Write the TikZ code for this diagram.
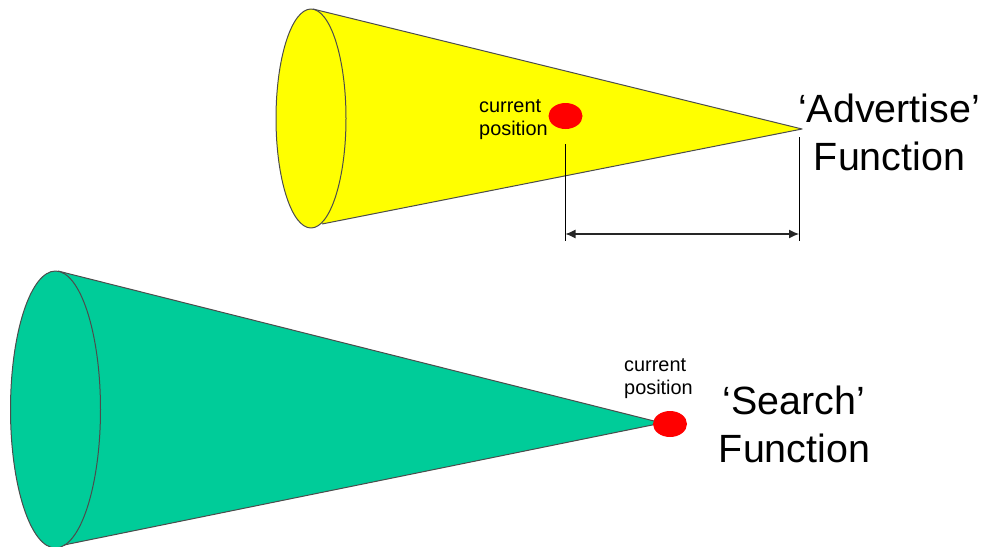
\documentclass[tikz,border=0pt]{standalone}
\usepackage{fontspec}
\setmainfont{Liberation Sans}
\usetikzlibrary{arrows.meta,shapes.geometric}
\definecolor{conegreen}{RGB}{0,204,153}
\definecolor{coneyellow}{RGB}{255,255,0}
\definecolor{dotred}{RGB}{255,0,0}
\tikzset{
  conebody/.style={draw=black!70,line width=1pt,line join=round},
  dot/.style={ellipse,fill=dotred,draw=none,inner sep=0pt,minimum width=34pt,minimum height=26pt},
  smalllabel/.style={font=\fontsize{19.9}{23}\selectfont,inner sep=0pt,anchor=base west},
  biglabel/.style={font=\fontsize{39.4}{48}\selectfont,inner sep=0pt,anchor=base},
  guide/.style={draw=black,line width=1pt},
  spanline/.style={draw=black!85,line width=1.1pt,{Latex[length=10pt,width=9pt]}-{Latex[length=10pt,width=9pt]}}
}
\begin{document}
\begin{tikzpicture}[x=1pt,y=-1pt]
\useasboundingbox (0,0) rectangle (982,546);
\clip (0,0) rectangle (982,546);
% yellow cone
\coordinate (ya) at (802,129);
\coordinate (yt) at (313,9);
\coordinate (yb) at (322,224);
\fill[coneyellow] (yt) -- (ya) -- (yb) -- cycle;
\draw[conebody,fill=coneyellow] (311,118.5) ellipse [x radius=35,y radius=109.5];
\draw[conebody] (yt) -- (ya) -- (yb);
% green cone
\coordinate (ga) at (662,423);
\coordinate (gt) at (58,271);
\coordinate (gb) at (64,545);
\fill[conegreen] (gt) -- (ga) -- (gb) -- cycle;
\draw[conebody,fill=conegreen] (55.5,409.5) ellipse [x radius=45,y radius=138.5];
\draw[conebody] (gt) -- (ga) -- (gb);
% red dots
\node[dot] (yd) at (565.5,116) {};
\node[dot] (gd) at (670,424) {};
% labels
\node[smalllabel] (yl1) at (479,112) {current};
\node[smalllabel] (yl2) at (479,135) {position};
\node[smalllabel] (gl1) at (624,371) {current};
\node[smalllabel] (gl2) at (624,394.5) {position};
\node[biglabel] (adv) at (889,122) {‘Advertise’};
\node[biglabel] (advf) at (889.5,170) {Function};
\node[biglabel] (sea) at (794,414) {‘Search’};
\node[biglabel] (seaf) at (794.5,462) {Function};
% dimension
\coordinate (p1) at (565.5,144);
\coordinate (p2) at (565.5,241);
\coordinate (q1) at (799,137);
\coordinate (q2) at (799,241);
\coordinate (r1) at (565.5,234);
\coordinate (r2) at (799,234);
\draw[guide] (p1) -- (p2);
\draw[guide] (q1) -- (q2);
\draw[spanline] (r1) -- (r2);
\end{tikzpicture}
\end{document}
